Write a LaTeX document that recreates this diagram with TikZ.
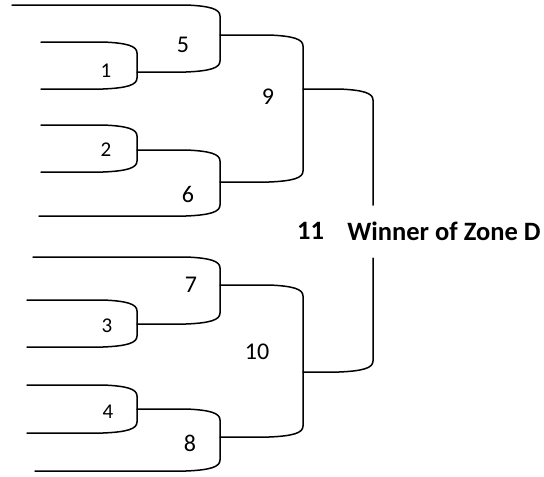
\documentclass[tikz,border=0pt]{standalone}
\usepackage{fontspec}
\setmainfont{Carlito}
\usetikzlibrary{calc}
\tikzset{
  brline/.style={line width=1.5pt, line join=round, line cap=round},
  cornerdown/.style={to path={-- ($(\tikztotarget|-\tikztostart)+(-34,0)$)
      .. controls ($(\tikztotarget|-\tikztostart)+(-10,1)$) and ($(\tikztotarget|-\tikztostart)+(0,4)$)
      .. ($(\tikztotarget|-\tikztostart)+(0,11)$) -- (\tikztotarget)}},
  cornerback/.style={to path={-- ($(\tikztostart|-\tikztotarget)+(0,-11)$)
      .. controls ($(\tikztostart|-\tikztotarget)+(0,-4)$) and ($(\tikztostart|-\tikztotarget)+(-10,-1)$)
      .. ($(\tikztostart|-\tikztotarget)+(-34,0)$) -- (\tikztotarget)}},
  small/.style={inner sep=0pt, font=\fontsize{21}{21}\selectfont},
  big/.style={inner sep=0pt, font=\fontsize{24}{24}\selectfont},
  title/.style={inner sep=0pt, font=\fontsize{26.5}{26.5}\selectfont\bfseries}
}
\begin{document}
\begin{tikzpicture}[x=1pt,y=-1pt]
\useasboundingbox (0,0) rectangle (544,477);
% entry points
\coordinate (e5t) at (12,5);
\coordinate (e1t) at (41,42);
\coordinate (e1b) at (41,89);
\coordinate (e2t) at (41,125);
\coordinate (e2b) at (41,172);
\coordinate (e6b) at (39,216);
\coordinate (e7t) at (33,257);
\coordinate (e3t) at (27,300);
\coordinate (e3b) at (27,347);
\coordinate (e4t) at (27,385);
\coordinate (e4b) at (27,433);
\coordinate (e8b) at (35,471);
% match outputs
\coordinate (o1) at (137,72);
\coordinate (o2) at (137,150);
\coordinate (o5) at (220,35);
\coordinate (o6) at (220,182);
\coordinate (o9) at (303,89);
\coordinate (o3) at (137,324);
\coordinate (o4) at (137,409);
\coordinate (o7) at (220,285);
\coordinate (o8) at (220,437);
\coordinate (o10) at (303,372);
% labels
\node[small] (l1) at (106,71) {1};
\node[small] (l2) at (106,150) {2};
\node[small] (l3) at (107,326) {3};
\node[small] (l4) at (108,412) {4};
\node[big] (l5) at (183,45) {5};
\node[big] (l6) at (188,194) {6};
\node[big] (l7) at (191,285) {7};
\node[big] (l8) at (190,443) {8};
\node[big] (l9) at (268,97) {9};
\node[big] (l10) at (257,352) {10};
\node[title] (l11) at (310.5,231) {11};
\node[title] (win) at (444,231) {Winner of Zone D};
\coordinate (g1) at (373,205);
\coordinate (g2) at (373,258);
% brackets
\draw[brline] (e1t) to[cornerdown] (o1) to[cornerback] (e1b);
\draw[brline] (e2t) to[cornerdown] (o2) to[cornerback] (e2b);
\draw[brline] (e3t) to[cornerdown] (o3) to[cornerback] (e3b);
\draw[brline] (e4t) to[cornerdown] (o4) to[cornerback] (e4b);
\draw[brline] (e5t) to[cornerdown] (o5) to[cornerback] (o1);
\draw[brline] (o2) to[cornerdown] (o6) to[cornerback] (e6b);
\draw[brline] (e7t) to[cornerdown] (o7) to[cornerback] (o3);
\draw[brline] (o4) to[cornerdown] (o8) to[cornerback] (e8b);
\draw[brline] (o5) to[cornerdown] (o9) to[cornerback] (o6);
\draw[brline] (o7) to[cornerdown] (o10) to[cornerback] (o8);
\draw[brline] (o9) to[cornerdown] (g1);
\draw[brline] (g2) to[cornerback] (o10);
\end{tikzpicture}
\end{document}
